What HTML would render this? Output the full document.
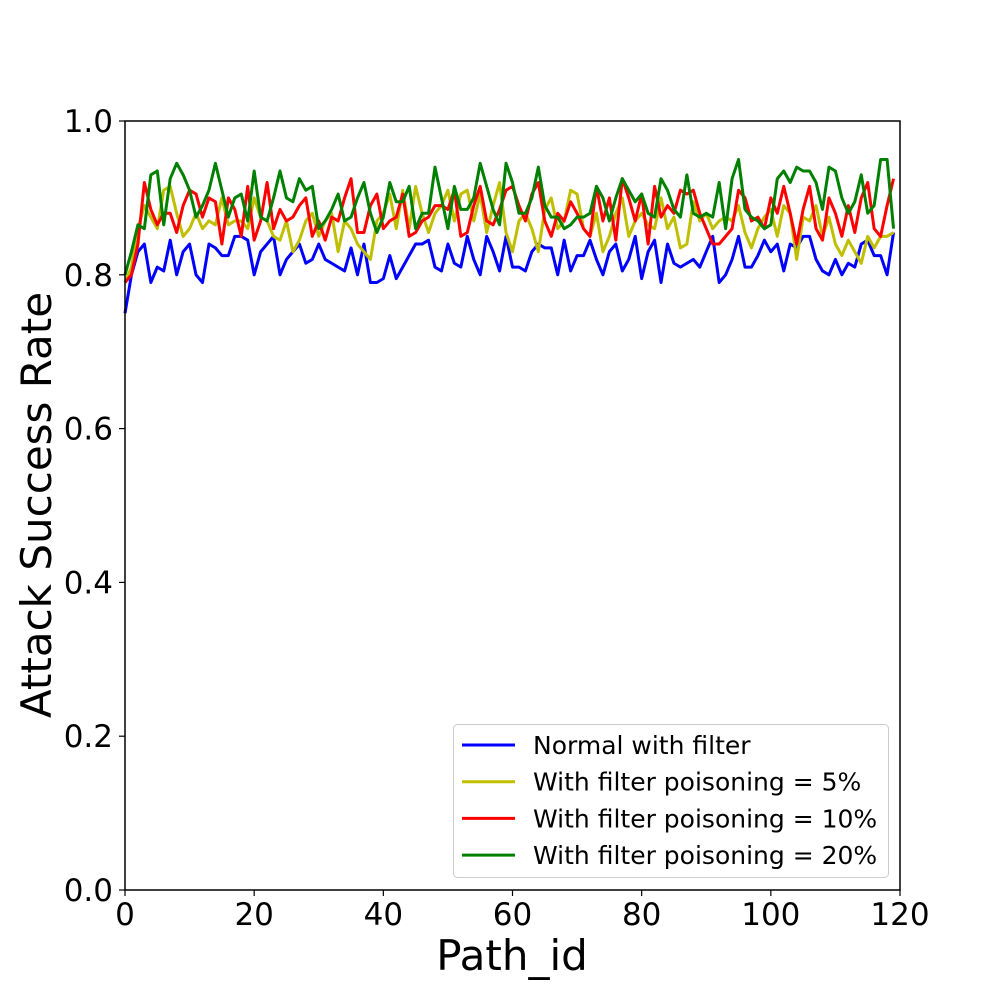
<!DOCTYPE html>
<html><head><meta charset="utf-8"><style>
body{margin:0;background:#fff}
svg{display:block}
text{font-family:"DejaVu Sans","Liberation Sans",sans-serif;fill:#000}
</style></head><body>
<svg id="chart" width="1000" height="1000"></svg>
<script>
const xTicks=[0,20,40,60,80,100,120];
const yTicks=[0.0,0.2,0.4,0.6,0.8,1.0];
const yTickLabels=["0.0","0.2","0.4","0.6","0.8","1.0"];
const seriesNames=["Normal with filter","With filter poisoning = 5%","With filter poisoning = 10%","With filter poisoning = 20%"];
const normal=[0.75,0.80,0.83,0.84,0.79,0.81,0.805,0.845,0.80,0.83,0.84,0.80,0.79,0.84,0.835,0.825,0.825,0.85,0.85,0.845,0.80,0.83,0.84,0.85,0.80,0.82,0.83,0.84,0.815,0.82,0.84,0.82,0.815,0.81,0.805,0.835,0.80,0.84,0.79,0.79,0.795,0.825,0.795,0.81,0.825,0.84,0.84,0.845,0.81,0.805,0.84,0.815,0.81,0.85,0.82,0.80,0.85,0.83,0.805,0.85,0.81,0.81,0.805,0.83,0.84,0.835,0.835,0.80,0.845,0.805,0.825,0.825,0.845,0.82,0.80,0.83,0.84,0.805,0.82,0.85,0.795,0.83,0.845,0.79,0.84,0.815,0.81,0.815,0.82,0.81,0.83,0.85,0.79,0.80,0.82,0.85,0.81,0.81,0.825,0.845,0.83,0.84,0.805,0.84,0.835,0.85,0.85,0.82,0.805,0.80,0.82,0.80,0.815,0.81,0.84,0.845,0.825,0.825,0.80,0.855];
const p5=[0.79,0.81,0.86,0.89,0.875,0.86,0.91,0.915,0.88,0.85,0.86,0.88,0.86,0.87,0.865,0.90,0.865,0.87,0.87,0.86,0.90,0.875,0.87,0.85,0.845,0.87,0.83,0.845,0.87,0.88,0.85,0.87,0.88,0.83,0.87,0.86,0.84,0.83,0.82,0.87,0.88,0.905,0.86,0.91,0.86,0.915,0.88,0.855,0.88,0.89,0.91,0.87,0.905,0.91,0.87,0.905,0.855,0.89,0.92,0.855,0.83,0.87,0.88,0.86,0.83,0.885,0.90,0.86,0.87,0.91,0.905,0.86,0.85,0.88,0.83,0.85,0.88,0.90,0.85,0.87,0.88,0.865,0.86,0.90,0.86,0.875,0.835,0.84,0.895,0.87,0.88,0.86,0.87,0.875,0.87,0.89,0.855,0.835,0.86,0.875,0.885,0.85,0.89,0.88,0.82,0.875,0.87,0.89,0.85,0.875,0.84,0.825,0.845,0.83,0.815,0.85,0.835,0.85,0.85,0.855];
const p10=[0.79,0.80,0.84,0.92,0.885,0.865,0.88,0.88,0.855,0.89,0.91,0.905,0.875,0.90,0.895,0.84,0.90,0.885,0.85,0.915,0.845,0.87,0.92,0.86,0.885,0.87,0.875,0.89,0.90,0.85,0.87,0.845,0.875,0.87,0.90,0.925,0.855,0.855,0.89,0.905,0.86,0.87,0.875,0.905,0.85,0.855,0.87,0.875,0.89,0.89,0.885,0.91,0.85,0.855,0.89,0.915,0.87,0.865,0.885,0.91,0.915,0.89,0.87,0.905,0.92,0.87,0.85,0.88,0.87,0.895,0.88,0.86,0.85,0.915,0.87,0.90,0.845,0.925,0.90,0.87,0.905,0.84,0.915,0.875,0.89,0.88,0.91,0.905,0.91,0.88,0.86,0.84,0.84,0.85,0.86,0.91,0.90,0.87,0.875,0.86,0.90,0.88,0.915,0.88,0.84,0.885,0.915,0.86,0.845,0.90,0.88,0.85,0.89,0.855,0.90,0.92,0.86,0.85,0.89,0.925];
const p20=[0.80,0.83,0.865,0.86,0.93,0.935,0.865,0.925,0.945,0.93,0.91,0.875,0.89,0.91,0.945,0.91,0.875,0.90,0.905,0.87,0.935,0.875,0.87,0.90,0.935,0.90,0.895,0.925,0.91,0.915,0.86,0.87,0.885,0.905,0.87,0.875,0.90,0.92,0.88,0.855,0.875,0.92,0.895,0.895,0.915,0.86,0.88,0.88,0.94,0.90,0.86,0.915,0.885,0.885,0.90,0.945,0.915,0.885,0.865,0.945,0.92,0.88,0.88,0.90,0.94,0.89,0.875,0.875,0.86,0.865,0.875,0.875,0.88,0.915,0.90,0.87,0.90,0.925,0.91,0.895,0.905,0.88,0.875,0.925,0.91,0.885,0.875,0.93,0.88,0.875,0.88,0.875,0.92,0.86,0.925,0.95,0.885,0.875,0.87,0.86,0.865,0.925,0.935,0.92,0.94,0.935,0.935,0.92,0.885,0.94,0.935,0.90,0.88,0.895,0.93,0.88,0.89,0.95,0.95,0.86];
const seriesColors=["#0000ff","#bfbf00","#ff0000","#008000"];
const allSeries=[normal,p5,p10,p20];
const X0=125,X1=900,Y0=890,Y1=121;
const sx=v=>X0+(v-0)/(120-0)*(X1-X0);
const sy=v=>Y0-(v-0)/(1-0)*(Y0-Y1);
const svg=document.getElementById('chart');
const NS="http://www.w3.org/2000/svg";
function mk(tag,attrs,parent){const e=document.createElementNS(NS,tag);for(const k in attrs)e.setAttribute(k,attrs[k]);(parent||svg).appendChild(e);return e;}
allSeries.forEach((s,i)=>{
  const pts=s.map((v,j)=>sx(j)+","+sy(v)).join(" ");
  const pl=mk('polyline',{points:pts,fill:'none',stroke:seriesColors[i],'stroke-width':3,'stroke-linejoin':'round'});
  
  
});
const fr=mk('rect',{x:X0,y:Y1,width:X1-X0,height:Y0-Y1,fill:'none',stroke:'#000','stroke-width':1.5});


xTicks.forEach(t=>{
  const l=mk('line',{x1:sx(t),x2:sx(t),y1:Y0,y2:Y0+6,stroke:'#000','stroke-width':1.2});
  
  
  const tx=mk('text',{x:sx(t),y:Y0+35,'text-anchor':'middle','font-size':31});
  tx.textContent=t;
  
  
});
yTicks.forEach((t,i)=>{
  const l=mk('line',{x1:X0-6,x2:X0,y1:sy(t),y2:sy(t),stroke:'#000','stroke-width':1.2});
  
  
  const tx=mk('text',{x:X0-12,y:sy(t)+11,'text-anchor':'end','font-size':31});
  tx.textContent=yTickLabels[i];
  
  
});
const xt=mk('text',{x:512,y:970,'text-anchor':'middle','font-size':42});
xt.textContent="Path_id";


const yt=mk('text',{x:0,y:0,'text-anchor':'middle','font-size':42,transform:'translate(51,505) rotate(-90)'});
yt.textContent="Attack Success Rate";


const lg=mk('g',{});


mk('rect',{x:453.5,y:724.5,width:435,height:153,rx:4,fill:'#fff',stroke:'#ccc','stroke-width':1},lg);
seriesNames.forEach((n,i)=>{
  const y=745+i*36.7;
  const l=mk('line',{x1:462,x2:515,y1:y,y2:y,stroke:seriesColors[i],'stroke-width':3},lg);
  
  
  const t=mk('text',{x:533,y:y+9,'font-size':25},lg);
  t.textContent=n;
  
  
});
</script>
</body></html>
